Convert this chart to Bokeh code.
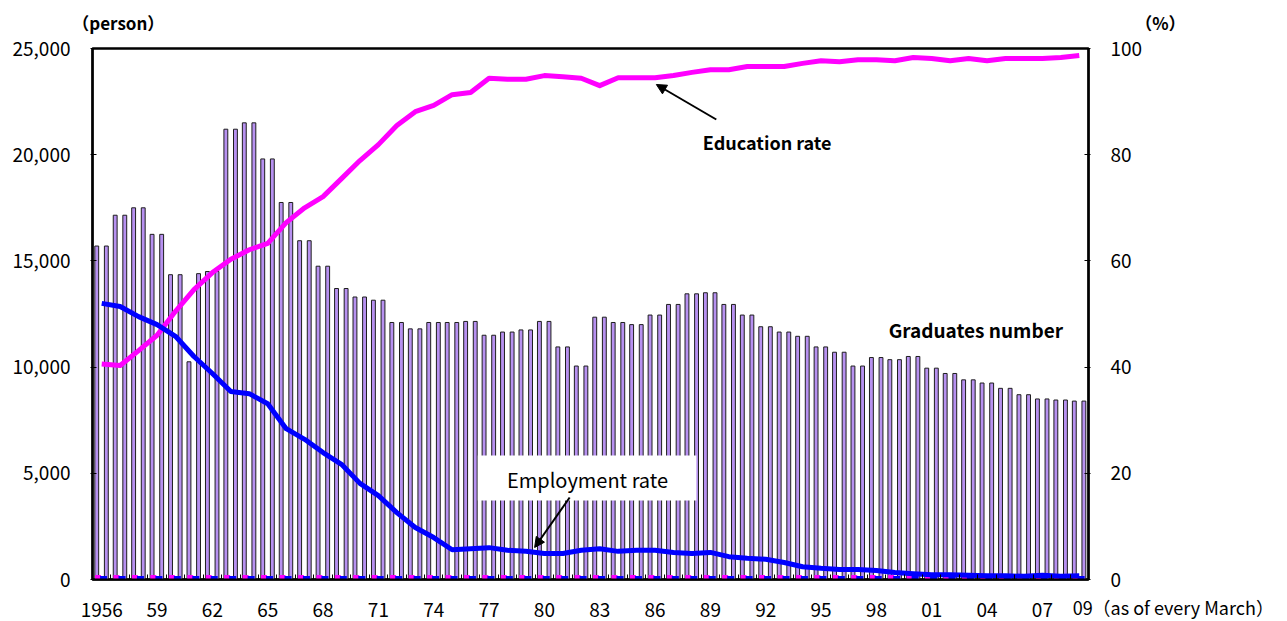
from bokeh.plotting import figure
from bokeh.models import (Range1d, LinearAxis, FixedTicker, NumeralTickFormatter,
                          Label, Arrow, NormalHead, ColumnDataSource)
from bokeh.embed import file_html
from bokeh.resources import INLINE

FONT = "Noto Sans CJK JP"

# ---------------- data ----------------
years = list(range(1956, 2010))
tick_years = [1956, 1959, 1962, 1965, 1968, 1971, 1974, 1977, 1980, 1983,
              1986, 1989, 1992, 1995, 1998, 2001, 2004, 2007]
tick_texts = ["1956", "59", "62", "65", "68", "71", "74", "77", "80", "83",
              "86", "89", "92", "95", "98", "01", "04", "07"]
last_label = "09（as of every March）"

# graduates (two bars drawn per year)
grads_a = [15700, 17150, 17500, 16250, 14350, 10250, 14500, 21200, 21500, 19800,
           17750, 15950, 14750, 13700, 13300, 13150, 12100, 11800, 12100, 12100,
           12150, 11500, 11650, 11750, 12150, 10950, 10050, 12350, 12100, 12000,
           12450, 12950, 13450, 13500, 12950, 12450, 11900, 11650, 11450, 10950,
           10700, 10050, 10450, 10350, 10500, 9950, 9700, 9400, 9250, 9000,
           8700, 8500, 8450, 8400]
grads_b = [15700, 17150, 17500, 16250, 14350, 14400, 14500, 21200, 21500, 19800,
           17750, 15950, 14750, 13700, 13300, 13150, 12100, 11800, 12100, 12100,
           12150, 11500, 11650, 11750, 12150, 10950, 10050, 12350, 12100, 12000,
           12450, 12950, 13450, 13500, 12950, 12450, 11900, 11650, 11450, 10950,
           10700, 10050, 10450, 10350, 10500, 9950, 9700, 9400, 9250, 9000,
           8700, 8500, 8450, 8400]
# education rate (%)
edu_rate = [40.6, 40.3, 43.1, 46.0, 50.5, 54.6, 57.8, 60.3, 62.1, 63.3,
            67.2, 70.0, 72.1, 75.5, 78.9, 81.9, 85.5, 88.1, 89.3, 91.3,
            91.7, 94.4, 94.2, 94.2, 94.9, 94.7, 94.4, 93.0, 94.5, 94.5,
            94.5, 94.9, 95.5, 96.0, 96.0, 96.6, 96.6, 96.6, 97.2, 97.7,
            97.5, 97.9, 97.9, 97.7, 98.3, 98.1, 97.7, 98.1, 97.7, 98.1,
            98.1, 98.1, 98.3, 98.7]
# employment rate (%)
emp_rate = [52.0, 51.4, 49.5, 48.0, 45.8, 42.0, 38.8, 35.4, 35.0, 33.1,
            28.4, 26.4, 23.9, 21.7, 18.1, 15.8, 12.6, 9.8, 7.9, 5.6,
            5.8, 6.0, 5.5, 5.3, 4.9, 4.9, 5.5, 5.8, 5.3, 5.5,
            5.5, 5.1, 4.9, 5.1, 4.3, 4.0, 3.8, 3.2, 2.4, 2.1,
            1.9, 1.9, 1.7, 1.3, 1.1, 0.9, 0.9, 0.8, 0.7, 0.7,
            0.6, 0.8, 0.6, 0.7]

# ---------------- figure ----------------
idx = [y - years[0] for y in years]
n = len(years)

p = figure(width=1287, height=621,
           min_border_left=92, min_border_right=197,
           min_border_top=48, min_border_bottom=42,
           x_range=Range1d(-0.5, n - 0.5), y_range=Range1d(0, 25000),
           output_backend="svg", toolbar_location=None,
           background_fill_color="white", border_fill_color="white")
p.extra_y_ranges = {"pct": Range1d(0, 100)}
p.xgrid.visible = False
p.ygrid.visible = False
p.outline_line_color = "black"
p.outline_line_width = 2.5

src = ColumnDataSource(dict(
    xa=[i - 0.27 for i in idx], xb=[i + 0.25 for i in idx],
    xm=[i - 0.2 for i in idx], xe=[i + 0.1 for i in idx],
    x=idx, ga=grads_a, gb=grads_b, edu=edu_rate, emp=emp_rate,
    zero=[0] * n))

bar_fill = "#B791F0"
p.vbar(x="xa", top="ga", width=0.21, source=src, fill_color=bar_fill,
       line_color="#1e1e1e", line_width=1)
p.vbar(x="xb", top="gb", width=0.21, source=src, fill_color=bar_fill,
       line_color="#1e1e1e", line_width=1)

# tiny rate marks at the base
p.rect(x="xm", y="zero", width=6, height=9, width_units="screen", height_units="screen",
       source=src, fill_color="#FF00FF", line_color=None)
p.rect(x="xe", y="zero", width=7, height=7, width_units="screen", height_units="screen",
       source=src, fill_color="#0000FF", line_color=None)

# white box behind "Employment rate"
p.quad(left=[20.39], right=[32.24], bottom=[3719], top=[5838],
       fill_color="white", line_color=None)

p.line(x="x", y="edu", source=src, y_range_name="pct", line_color="#FF00FF",
       line_width=5, line_join="round")
p.line(x="x", y="emp", source=src, y_range_name="pct", line_color="#0000FF",
       line_width=5, line_join="round")

# ---------------- axes ----------------
xax = p.xaxis[0]
xax.ticker = FixedTicker(ticks=[y - years[0] for y in tick_years],
                         minor_ticks=[k - 0.5 for k in range(n + 1)])
xax.major_label_overrides = {float(y - years[0]): t for y, t in zip(tick_years, tick_texts)}
xax.major_tick_line_color = None
xax.minor_tick_in = 5
xax.minor_tick_out = 0
xax.minor_tick_line_color = "black"
xax.minor_tick_line_width = 1
xax.axis_line_color = "black"
xax.axis_line_width = 2
xax.major_label_standoff = 17
xax.major_label_text_font = FONT
xax.major_label_text_font_size = "19px"
xax.major_label_text_color = "black"

yax = p.yaxis[0]
yax.ticker = FixedTicker(ticks=[0, 5000, 10000, 15000, 20000, 25000])
yax.formatter = NumeralTickFormatter(format="0,0")
yax.minor_tick_line_color = None
yax.major_tick_in = 4
yax.major_tick_out = 2
yax.axis_line_width = 2
yax.major_label_standoff = 20
yax.major_label_text_font = FONT
yax.major_label_text_font_size = "19px"
yax.major_label_text_color = "black"

rax = LinearAxis(y_range_name="pct", ticker=FixedTicker(ticks=[0, 20, 40, 60, 80, 100]))
rax.minor_tick_line_color = None
rax.major_tick_in = 4
rax.major_tick_out = 2
rax.axis_line_width = 2
rax.major_label_standoff = 20
rax.major_label_text_font = FONT
rax.major_label_text_font_size = "19px"
rax.major_label_text_color = "black"
p.add_layout(rax, "right")

# ---------------- annotations ----------------
def lab(text, x, y, align="center", baseline="middle", bold=False, size="18px", place="center"):
    p.add_layout(Label(text=text, x=x, y=y, text_align=align, text_baseline=baseline,
                       text_font=FONT, text_font_size=size,
                       text_font_style="bold" if bold else "normal", text_color="black"),
                 place)

# texts outside the frame live in side panels (not clipped); placed in data units
lab("（person）", 0.9, 26230, bold=True, size="17px", place="right")
lab("（%）", 57.4, 26230, bold=True, size="17px", place="right")
lab(last_label, 52.64, -700, align="left", baseline="top", size="18px", place="above")
lab("Education rate", 36.08, 20620, bold=True, size="18px")
lab("Employment rate", 26.34, 4708, size="20px")
lab("Graduates number", 47.39, 11770, bold=True, size="19px")

p.add_layout(Arrow(end=NormalHead(size=10, fill_color="black", line_color="black"),
                   x_start=33.32, y_start=21657, x_end=30.07, y_end=23305,
                   line_color="black", line_width=2))
p.add_layout(Arrow(end=NormalHead(size=10, fill_color="black", line_color="black"),
                   x_start=25.37, y_start=3861, x_end=23.47, y_end=1507,
                   line_color="black", line_width=2))

open("out.html", "w").write(file_html(p, INLINE))
